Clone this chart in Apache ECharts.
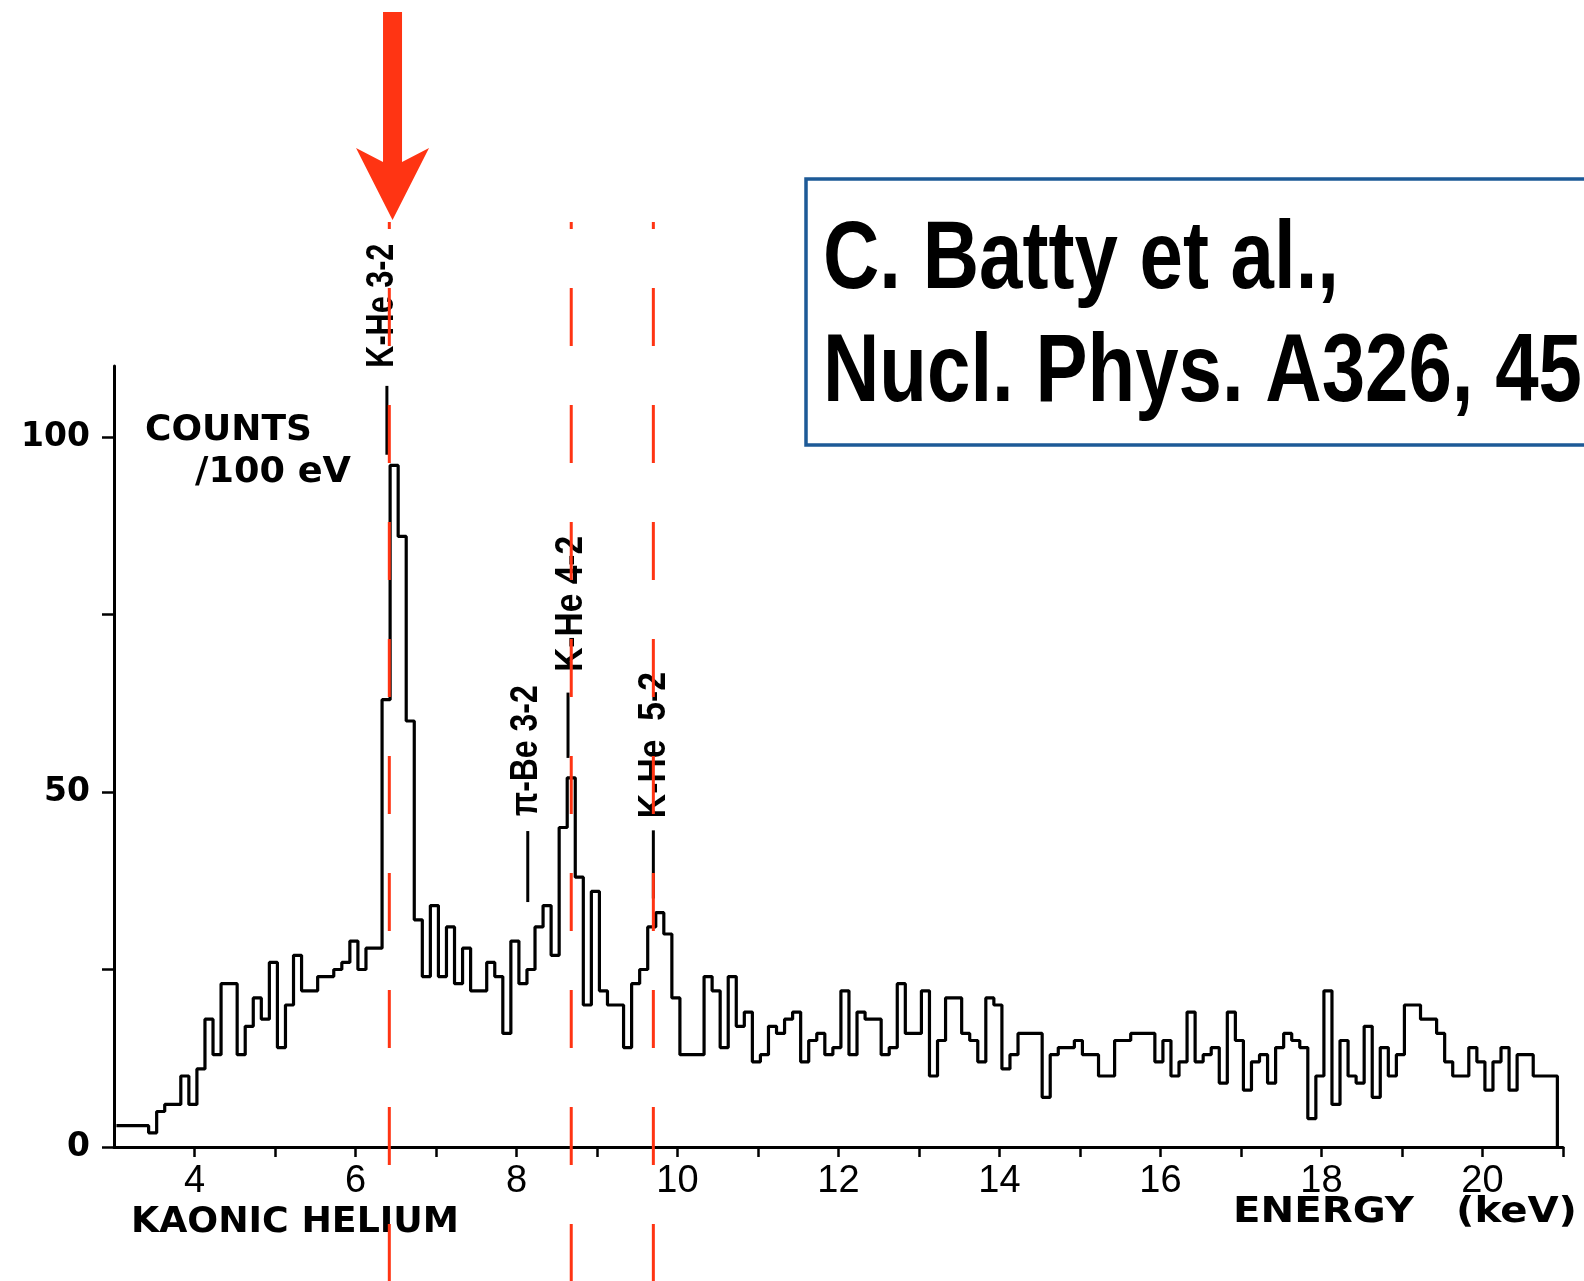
<!DOCTYPE html>
<html>
<head>
<meta charset="utf-8">
<title>Kaonic helium X-ray spectrum</title>
<script src="https://cdn.jsdelivr.net/npm/echarts@6/dist/echarts.min.js"></script>
<style>
  html, body { margin: 0; padding: 0; background: #ffffff; }
  #chart { width: 1584px; height: 1281px; }
</style>
</head>
<body>
<div id="chart"></div>
<script>
// Spectrum: counts per 100 eV channel, first channel edge at 3.03 keV
const binStart = 3.03;
const binWidth = 0.1;
const counts = [
  3, 3, 3, 3, 2, 5, 6, 6, 10, 6,
  11, 18, 13, 23, 23, 13, 17, 21, 18, 26,
  14, 20, 27, 22, 22, 24, 24, 25, 26, 29,
  25, 28, 28, 63, 96, 86, 60, 32, 24, 34,
  24, 31, 23, 28, 22, 22, 26, 24, 16, 29,
  23, 25, 31, 34, 27, 45, 52, 38, 20, 36,
  22, 20, 20, 14, 23, 25, 31, 33, 30, 21,
  13, 13, 13, 24, 22, 14, 24, 17, 19, 12,
  13, 17, 16, 18, 19, 12, 15, 16, 13, 14,
  22, 13, 19, 18, 18, 13, 14, 23, 16, 16,
  22, 10, 15, 21, 21, 16, 15, 12, 21, 20,
  11, 13, 16, 16, 16, 7, 13, 14, 14, 15,
  13, 13, 10, 10, 15, 15, 16, 16, 16, 12,
  15, 10, 12, 19, 12, 13, 14, 9, 19, 15,
  8, 12, 13, 9, 14, 16, 15, 14, 4, 10,
  22, 6, 15, 10, 9, 17, 7, 14, 10, 13,
  20, 20, 18, 18, 16, 12, 10, 10, 14, 12,
  8, 12, 14, 8, 13, 13, 10, 10, 10
];

// Axis ticks and labels
const xTickValues = [4, 5, 6, 7, 8, 9, 10, 11, 12, 13, 14, 15, 16, 17, 18, 19, 20, 21];
const xLabelValues = [4, 6, 8, 10, 12, 14, 16, 18, 20];
const yTickValues = [0, 25, 50, 75, 100];
const yLabelValues = [0, 50, 100];

// Transition lines (keV) and their labels
const lineEnergies = [6.42, 8.68, 9.70];
const peakLabels = ['K-He 3-2', 'π-Be 3-2', 'K-He 4-2', 'K-He  5-2'];
const peakLabelEnergy = [6.33, 8.12, 8.68, 9.72];
const peakLabelCount = [118.5, 55.8, 76.5, 56.6];
const peakLabelLength = [124, 131, 136, 146];
const markerEnergy = [6.39, 8.14, 8.64, 9.70];
const markerTop = [107.2, 44.5, 64.0, 44.6];
const markerBottom = [97.5, 34.5, 54.8, 35.0];
const arrowEnergy = 6.46;

// Histogram outline as a step line through the channel edges
const histData = counts.map((c, i) => [+(binStart + i * binWidth).toFixed(2), c]);
const binEnd = +(binStart + counts.length * binWidth).toFixed(2);
histData.push([binEnd, counts[counts.length - 1]], [binEnd, 0]);

const chart = echarts.init(document.getElementById('chart'), null, { renderer: 'canvas' });

chart.setOption({
  animation: false,
  backgroundColor: '#ffffff',
  grid: { left: 114, right: 21, top: 366, bottom: 134, containLabel: false },
  xAxis: {
    type: 'value',
    min: 3,
    max: 21,
    interval: 1,
    splitLine: { show: false },
    axisLine: { lineStyle: { color: '#000', width: 3 } },
    axisTick: { show: true, length: 10, customValues: xTickValues,
      lineStyle: { color: '#000', width: 2.5 } },
    axisLabel: {
      margin: 16,
      color: '#000',
      fontFamily: '"Liberation Sans", sans-serif',
      fontSize: 38,
      customValues: xLabelValues
    }
  },
  yAxis: {
    type: 'value',
    min: 0,
    max: 110,
    interval: 25,
    splitLine: { show: false },
    axisLine: { show: true, lineStyle: { color: '#000', width: 3 } },
    axisTick: { show: true, length: 12, customValues: yTickValues,
      lineStyle: { color: '#000', width: 2.5 } },
    axisLabel: {
      margin: 24,
      color: '#000',
      fontFamily: '"DejaVu Sans", sans-serif',
      fontWeight: 'bold',
      fontSize: 33,
      customValues: yLabelValues
    }
  },
  series: [{
    type: 'line',
    step: 'end',
    data: histData,
    symbol: 'none',
    lineStyle: { color: '#000', width: 3.2 },
    z: 3
  }]
});

// Horizontal squeeze/stretch so a string spans a given width
const measureCtx = document.createElement('canvas').getContext('2d');
function fitScale(text, font, width) {
  measureCtx.font = font;
  return width / measureCtx.measureText(text).width;
}

function px(e, c) { return chart.convertToPixel({ gridIndex: 0 }, [e, c]); }

const red = '#ff3413';
const graphics = [];

// Dashed transition lines
lineEnergies.forEach(e => {
  const x = px(e, 0)[0];
  graphics.push({
    type: 'line', z: 50,
    shape: { x1: x, y1: 222, x2: x, y2: 1281 },
    style: { stroke: red, lineWidth: 3, lineDash: [58, 59], lineDashOffset: 51 }
  });
});

// Short black markers under the labels
markerEnergy.forEach((e, i) => {
  const p1 = px(e, markerTop[i]);
  const p2 = px(e, markerBottom[i]);
  graphics.push({
    type: 'line', z: 40,
    shape: { x1: p1[0], y1: p1[1], x2: p2[0], y2: p2[1] },
    style: { stroke: '#000', lineWidth: 3 }
  });
});

// Vertical line labels
const labelFont = 'bold 38px "Liberation Sans", sans-serif';
peakLabels.forEach((t, i) => {
  const p = px(peakLabelEnergy[i], peakLabelCount[i]);
  graphics.push({
    type: 'text', z: 40,
    x: p[0], y: p[1], rotation: Math.PI / 2,
    scaleX: fitScale(t, labelFont, peakLabelLength[i]),
    style: { text: t, fill: '#000', font: labelFont, align: 'center', verticalAlign: 'middle' }
  });
});

// Arrow pointing at the 3-2 line
const ax = px(arrowEnergy, 0)[0];
graphics.push({
  type: 'polygon', z: 60,
  shape: {
    points: [
      [ax - 9.5, 12], [ax - 9.5, 162], [ax - 36.5, 148], [ax, 220],
      [ax + 36.5, 148], [ax + 9.5, 162], [ax + 9.5, 12]
    ]
  },
  style: { fill: red, stroke: null }
});

// Axis captions
const captionFont = 'bold 35px "DejaVu Sans", sans-serif';
const captions = [
  { text: 'COUNTS', x: 145, y: 431, width: 167, align: 'left' },
  { text: '/100 eV', x: 195, y: 473, width: 156, align: 'left' },
  { text: 'KAONIC HELIUM', x: 131, y: 1223, width: 328, align: 'left' },
  { text: 'ENERGY   (keV)', x: 1577, y: 1213, width: 344, align: 'right' }
];
captions.forEach(c => {
  graphics.push({
    type: 'text', z: 40, x: c.x, y: c.y,
    scaleX: fitScale(c.text, captionFont, c.width),
    style: { text: c.text, fill: '#000', font: captionFont, align: c.align, verticalAlign: 'middle' }
  });
});

// Reference box
const refFont = 'bold 96px "Liberation Sans", sans-serif';
const refScale = fitScale('C. Batty et al.,', refFont, 516);
graphics.push(
  { type: 'rect', z: 30,
    shape: { x: 806, y: 179, width: 820, height: 266 },
    style: { fill: '#ffffff', stroke: '#1d5a97', lineWidth: 3.5 } },
  { type: 'text', z: 31, x: 823, y: 262, scaleX: refScale,
    style: { text: 'C. Batty et al.,', fill: '#000', font: refFont, align: 'left', verticalAlign: 'middle' } },
  { type: 'text', z: 31, x: 823, y: 375, scaleX: refScale,
    style: { text: 'Nucl. Phys. A326, 45', fill: '#000', font: refFont, align: 'left', verticalAlign: 'middle' } }
);

chart.setOption({ graphic: { elements: graphics } });
</script>
</body>
</html>
